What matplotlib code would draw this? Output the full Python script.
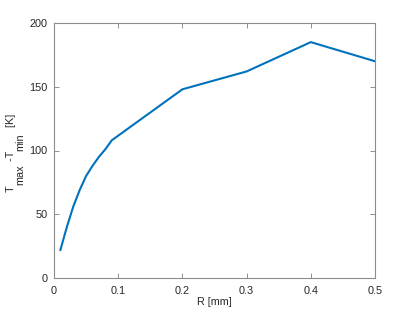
import matplotlib
matplotlib.use('Agg')
import matplotlib.pyplot as plt
from matplotlib.transforms import IdentityTransform

R = [0.01, 0.02, 0.03, 0.04, 0.05, 0.06, 0.07, 0.08, 0.09, 0.2, 0.3, 0.4, 0.5]
dT = [22, 40, 56, 69, 80, 88, 95, 101, 108, 148, 162, 185, 170]

# ylabel pieces, MATLAB-style tex subscripts (1 = subscript)
ylabel_parts = [('T', 0), ('max', 1), (' -T', 0), ('min', 1), ('  [K]', 0)]

plt.rcParams['font.family'] = ['Liberation Sans', 'DejaVu Sans']

axis_color = '#262626'
fs = 7.8

fig = plt.figure(figsize=(4.15, 3.12), dpi=100)
ax = fig.add_axes([54 / 415, 1 - 278 / 312, (375 - 54) / 415, (278 - 23) / 312])

ax.plot(R, dT, color='#0072BD', linewidth=1.5)

ax.set_xlim(0, 0.5)
ax.set_ylim(0, 200)
ax.set_xticks([0, 0.1, 0.2, 0.3, 0.4, 0.5])
ax.set_xticklabels(['0', '0.1', '0.2', '0.3', '0.4', '0.5'])
ax.set_yticks([0, 50, 100, 150, 200])

ax.tick_params(direction='in', top=True, right=True, length=3.5, width=0.6,
               color='#7f7f7f', labelcolor=axis_color, labelsize=fs)
ax.tick_params(axis='x', pad=5.5)
ax.tick_params(axis='y', pad=4.5)
for s in ax.spines.values():
    s.set_color('#8c8c8c')
    s.set_linewidth(0.8)

ax.set_xlabel('R [mm]', color=axis_color, fontsize=fs, labelpad=1)

# y label built piece by piece so the subscripts sit low like MATLAB's
renderer = fig.canvas.get_renderer()
widths = []
for txt, sub in ylabel_parts:
    t = fig.text(0, 0, txt, fontsize=fs)
    widths.append(t.get_window_extent(renderer).width)
    t.remove()

total = sum(widths)
y = (312 - 153) - total / 2
for (txt, sub), w in zip(ylabel_parts, widths):
    x = 23.5 if sub else 14
    fig.text(x, y, txt, fontsize=fs, color=axis_color, rotation=90,
             rotation_mode='anchor', ha='left', va='baseline',
             transform=IdentityTransform())
    y += w

fig.savefig('out.png', dpi=100)
